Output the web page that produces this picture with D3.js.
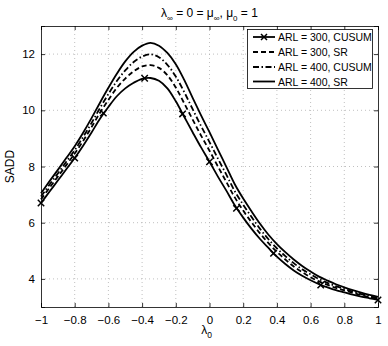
<!DOCTYPE html>
<html>
<head>
<meta charset="utf-8">
<script src="https://cdn.jsdelivr.net/npm/d3@7"></script>
<style>
  html, body { margin: 0; padding: 0; background: #fff; }
  svg { display: block; }
  text { font-family: "Liberation Sans", Arial, Helvetica, sans-serif; fill: #000; }
</style>
</head>
<body>
<svg id="chart" width="388" height="346"></svg>
<script>
// ---------------- data ----------------
const lambda0 = [-1.00,-0.95,-0.90,-0.85,-0.80,-0.75,-0.70,-0.65,-0.60,-0.55,-0.50,-0.45,-0.40,-0.35,-0.30,-0.25,-0.20,-0.15,-0.10,-0.05,
                  0.00, 0.05, 0.10, 0.15, 0.20, 0.25, 0.30, 0.35, 0.40, 0.45, 0.50, 0.55, 0.60, 0.65, 0.70, 0.75, 0.80, 0.85, 0.90, 0.95, 1.00];
const cusum300 = [6.70,7.10,7.50,7.90,8.30,8.74,9.21,9.70,10.12,10.50,10.78,10.98,11.12,11.15,11.05,10.78,10.32,9.77,9.22,8.68,
                  8.17,7.64,7.14,6.62,6.18,5.78,5.42,5.10,4.79,4.53,4.30,4.11,3.95,3.81,3.70,3.60,3.52,3.44,3.37,3.31,3.25];
const sr300    = [6.83,7.24,7.64,8.05,8.46,8.91,9.40,9.91,10.37,10.80,11.13,11.39,11.56,11.61,11.51,11.25,10.81,10.25,9.67,9.10,
                  8.56,8.00,7.45,6.90,6.43,6.01,5.62,5.27,4.96,4.69,4.44,4.24,4.06,3.91,3.79,3.68,3.59,3.50,3.42,3.35,3.29];
const cusum400 = [6.93,7.35,7.75,8.17,8.58,9.05,9.55,10.08,10.58,11.04,11.42,11.72,11.91,11.99,11.89,11.62,11.20,10.65,10.04,9.44,
                  8.87,8.28,7.71,7.12,6.64,6.20,5.78,5.41,5.09,4.81,4.56,4.34,4.16,3.99,3.86,3.74,3.64,3.55,3.46,3.39,3.32];
const sr400    = [7.05,7.47,7.88,8.30,8.72,9.20,9.72,10.27,10.80,11.30,11.74,12.08,12.30,12.40,12.30,12.04,11.64,11.08,10.44,9.82,
                  9.22,8.60,7.99,7.37,6.86,6.40,5.96,5.57,5.24,4.95,4.69,4.46,4.26,4.08,3.94,3.81,3.70,3.60,3.51,3.43,3.36];
// marker locations on the ARL = 300, CUSUM curve
const markerLambda = [-1, -0.8, -0.63, -0.385, -0.16, 0, 0.16, 0.38, 0.66, 1];
const markerValues = [6.70, 8.30, 9.90, 11.14, 9.87, 8.17, 6.51, 4.91, 3.78, 3.25];

const xTicks = [-1,-0.8,-0.6,-0.4,-0.2,0,0.2,0.4,0.6,0.8,1];
const yTicks = [4,6,8,10,12];
const seriesNames = ["ARL = 300, CUSUM", "ARL = 300, SR", "ARL = 400, CUSUM", "ARL = 400, SR"];

// ---------------- layout ----------------
const svg = d3.select("#chart");
const L = 41, R = 378, T = 26, B = 307;
const x = d3.scaleLinear().domain([-1, 1]).range([L, R]);
const y = d3.scaleLinear().domain([3, 13]).range([B, T]);

// grid
const grid = svg.append("g").attr("stroke", "#b0b0b0").attr("stroke-width", 0.8).attr("stroke-dasharray", "1,3");
xTicks.slice(1, -1).forEach(t => grid.append("line").attr("x1", x(t)).attr("x2", x(t)).attr("y1", T).attr("y2", B));
yTicks.forEach(t => grid.append("line").attr("x1", L).attr("x2", R).attr("y1", y(t)).attr("y2", y(t)));

// axes
const fmt = d => (d < 0 ? "\u2212" + Math.abs(d) : String(d));
const axB = svg.append("g").attr("transform", `translate(0,${B})`)
  .call(d3.axisBottom(x).tickValues(xTicks).tickSize(-4).tickPadding(9).tickFormat(fmt));
const axT = svg.append("g").attr("transform", `translate(0,${T})`)
  .call(d3.axisTop(x).tickValues(xTicks).tickSize(-4).tickFormat(""));
const axL = svg.append("g").attr("transform", `translate(${L},0)`)
  .call(d3.axisLeft(y).tickValues(yTicks).tickSize(-4).tickPadding(6).tickFormat(d3.format("d")));
const axR = svg.append("g").attr("transform", `translate(${R},0)`)
  .call(d3.axisRight(y).tickValues(yTicks).tickSize(-4).tickFormat(""));
[axB, axT, axL, axR].forEach(a => {
  a.selectAll(".domain").attr("stroke", "#000").attr("stroke-width", 0.8);
  a.selectAll(".tick line").attr("stroke", "#000").attr("stroke-width", 0.8);
  a.selectAll("text").attr("font-size", 11.5).attr("font-family", "Liberation Sans, Arial, sans-serif").attr("fill", "#000");
});

// curves
const line = d3.line().x(d => x(d[0])).y(d => y(d[1])).curve(d3.curveCatmullRom.alpha(0.5));
const zip = v => lambda0.map((l, i) => [l, v[i]]);
const styles = [
  { data: cusum300, dash: null },
  { data: sr300, dash: "5,3" },
  { data: cusum400, dash: "6,2.5,1.5,2.5" },
  { data: sr400, dash: null }
];
const curves = svg.append("g").attr("fill", "none").attr("stroke", "#000").attr("stroke-width", 1.8);
styles.forEach(s => {
  curves.append("path").attr("d", line(zip(s.data))).attr("stroke-dasharray", s.dash);
});

// markers
const xMark = (g, cx, cy, r) => {
  g.append("path").attr("d", `M${cx - r},${cy - r}L${cx + r},${cy + r}M${cx - r},${cy + r}L${cx + r},${cy - r}`)
    .attr("stroke", "#000").attr("stroke-width", 1.5).attr("fill", "none");
};
const mk = svg.append("g");
markerLambda.forEach((l, i) => xMark(mk, x(l), y(markerValues[i]), 3.2));

// title
const title = svg.append("text").attr("x", x(0)).attr("y", 17).attr("text-anchor", "middle").attr("font-size", 12);
title.append("tspan").text("\u03bb");
title.append("tspan").attr("font-size", 8).attr("dy", 4).text("\u221e");
title.append("tspan").attr("dy", -4).text(" = 0 = \u03bc");
title.append("tspan").attr("font-size", 8).attr("dy", 4).text("\u221e");
title.append("tspan").attr("dy", -4).text(", \u03bc");
title.append("tspan").attr("font-size", 8).attr("dy", 4).text("0");
title.append("tspan").attr("dy", -4).text(" = 1");

// x label
const xl = svg.append("text").attr("x", x(0) - 3).attr("y", 334).attr("text-anchor", "middle").attr("font-size", 12);
xl.append("tspan").text("\u03bb");
xl.append("tspan").attr("font-size", 8.5).attr("dy", 4).text("0");

// y label
svg.append("text").attr("transform", `translate(14,${(T + B) / 2}) rotate(-90)`)
  .attr("text-anchor", "middle").attr("font-size", 12).text("SADD");

// legend
const lg = svg.append("g");
lg.append("rect").attr("x", 247.5).attr("y", 29.5).attr("width", 125).attr("height", 59)
  .attr("fill", "#fff").attr("stroke", "#000").attr("stroke-width", 0.8);
const rowY = [37, 52, 67, 81.5];
styles.forEach((s, i) => {
  lg.append("line").attr("x1", 253).attr("x2", 275).attr("y1", rowY[i]).attr("y2", rowY[i])
    .attr("stroke", "#000").attr("stroke-width", 1.8).attr("stroke-dasharray", s.dash);
  if (i === 0) xMark(lg, 264, rowY[i], 3);
  lg.append("text").attr("x", 278).attr("y", rowY[i] + 4).attr("font-size", 10.5).text(seriesNames[i]);
});
</script>
</body>
</html>
